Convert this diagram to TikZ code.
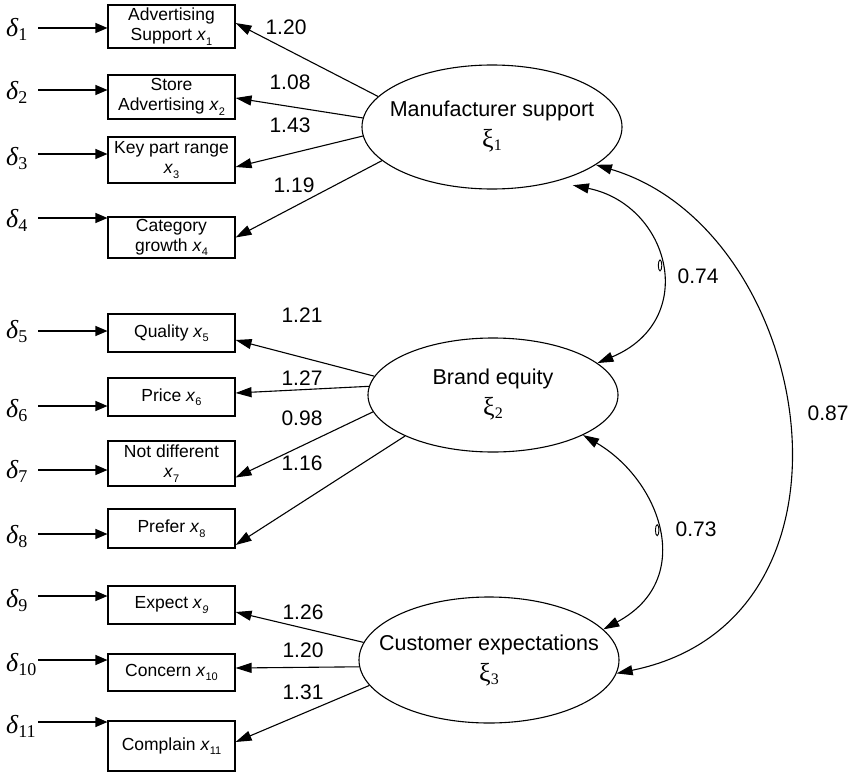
\documentclass[tikz,border=0pt]{standalone}
\usepackage{fontspec}
\setmainfont{Liberation Sans}
\newfontfamily\serifgr{Liberation Serif}
\usetikzlibrary{shapes.geometric,arrows.meta}

% error term, latent variable symbol and indicator variable
\newcommand{\dlab}[1]{{\serifgr\fontsize{26}{26}\selectfont\itshape δ}\raisebox{-4pt}{\serifgr\fontsize{18}{18}\selectfont #1}}
\newcommand{\xilab}[1]{{\serifgr\fontsize{26}{26}\selectfont ξ}\raisebox{-3pt}{\serifgr\fontsize{16}{16}\selectfont #1}}
\newcommand{\xv}[1]{\textit{x}\raisebox{-4.5pt}{\fontsize{11}{11}\selectfont #1}}

\tikzset{
  indicator/.style={draw, line width=1.1pt, minimum width=127pt, inner sep=0pt,
    align=center, font=\fontsize{17.5}{20}\selectfont},
  latent/.style={draw, ellipse, line width=1.1pt, inner sep=0pt},
  lattext/.style={inner sep=0pt, align=center, font=\fontsize{21.5}{31}\selectfont},
  errlab/.style={inner sep=0pt, anchor=base west},
  wlab/.style={inner sep=0pt, font=\fontsize{21}{21}\selectfont},
  errarrow/.style={-{Triangle[length=12pt,width=10pt]}, line width=1.1pt},
  load/.style={-{Triangle[length=16pt,width=10pt]}, line width=1.1pt},
  cov/.style={{Triangle[length=16pt,width=10pt]}-{Triangle[length=16pt,width=10pt]}, line width=1.1pt},
  tick/.style={draw, ellipse, minimum width=3.5pt, minimum height=11pt, inner sep=0pt, line width=0.9pt}
}

\begin{document}
\begin{tikzpicture}[x=1pt,y=-1pt]
\useasboundingbox (0,0) rectangle (861,773);

% latent factors (outline fixed by size, text set inside)
\node[latent, minimum width=260pt, minimum height=124pt,
  label={[lattext]center:Manufacturer support\\\xilab{1}}] (e1) at (492,127) {};
\node[latent, minimum width=250pt, minimum height=114pt,
  label={[lattext]center:Brand equity\\\xilab{2}}] (e2) at (493,395) {};
\node[latent, minimum width=260pt, minimum height=126pt,
  label={[lattext]center:Customer expectations\\\xilab{3}}] (e3) at (489,660) {};

% observed indicators
\node[indicator, minimum height=43pt] (b1) at (171.5,26.5) {Advertising\\Support \xv{1}};
\node[indicator, minimum height=44pt] (b2) at (171.5,97) {Store\\Advertising \xv{2}};
\node[indicator, minimum height=46pt] (b3) at (171.5,160) {Key part range\\\xv{3}};
\node[indicator, minimum height=41pt] (b4) at (171.5,237.5) {Category\\growth \xv{4}};
\node[indicator, minimum height=38pt] (b5) at (171.5,333) {Quality \xv{5}};
\node[indicator, minimum height=38pt] (b6) at (171.5,397) {Price \xv{6}};
\node[indicator, minimum height=45pt] (b7) at (171.5,463.5) {Not different\\\xv{7}};
\node[indicator, minimum height=39pt] (b8) at (171.5,528.5) {Prefer \xv{8}};
\node[indicator, minimum height=38pt] (b9) at (171.5,605) {Expect \textit{x}\raisebox{-4.5pt}{\fontsize{11}{11}\selectfont\itshape 9}};
\node[indicator, minimum height=37pt] (b10) at (171.5,672.5) {Concern \xv{10}};
\node[indicator, minimum height=50pt] (b11) at (171.5,746) {Complain \xv{11}};

% error terms
\node[errlab] (d1) at (6,37) {\dlab{1}};
\node[errlab] (d2) at (6,100) {\dlab{2}};
\node[errlab] (d3) at (6,165) {\dlab{3}};
\node[errlab] (d4) at (6,227) {\dlab{4}};
\node[errlab] (d5) at (6,338) {\dlab{5}};
\node[errlab] (d6) at (6,417) {\dlab{6}};
\node[errlab] (d7) at (6,478) {\dlab{7}};
\node[errlab] (d8) at (6,543) {\dlab{8}};
\node[errlab] (d9) at (6,607) {\dlab{9}};
\node[errlab] (d10) at (6,671) {\dlab{10}};
\node[errlab] (d11) at (6,733) {\dlab{11}};

\coordinate (s1) at (38,28);
\coordinate (s2) at (38,90);
\coordinate (s3) at (38,154);
\coordinate (s4) at (38,218);
\coordinate (s5) at (38,331);
\coordinate (s6) at (38,406);
\coordinate (s7) at (38,470);
\coordinate (s8) at (38,534);
\coordinate (s9) at (38,596);
\coordinate (s10) at (38,660);
\coordinate (s11) at (38,722);
\foreach \i in {1,...,11} {
  \draw[errarrow] (s\i) -- (s\i -| b\i.west);
}

% factor loadings
\draw[load] (e1.165.4) -- ([yshift=3.5pt]b1.east);
\draw[load] (e1.176.5) -- ([yshift=-1pt]b2.east);
\draw[load] (e1.184.8) -- ([yshift=-7pt]b3.east);
\draw[load] (e1.197.4) -- (b4.east);
\draw[load] (e2.171.5) -- ([yshift=-7pt]b5.east);
\draw[load] (e2.176.3) -- ([yshift=4pt]b6.east);
\draw[load] (e2.188) -- ([yshift=-14pt]b7.east);
\draw[load] (e2.205) -- ([yshift=-16.5pt]b8.east);
\draw[load] (e3.172.8) -- ([yshift=-7pt]b9.east);
\draw[load] (e3.183.5) -- ([yshift=4.5pt]b10.east);
\draw[load] (e3.192.2) -- ([yshift=4pt]b11.east);

\node[wlab] (w1) at (286,27) {1.20};
\node[wlab] (w2) at (290,82) {1.08};
\node[wlab] (w3) at (290,125) {1.43};
\node[wlab] (w4) at (294,185) {1.19};
\node[wlab] (w5) at (302,315) {1.21};
\node[wlab] (w6) at (302,378) {1.27};
\node[wlab] (w7) at (302,418) {0.98};
\node[wlab] (w8) at (302,463) {1.16};
\node[wlab] (w9) at (303,612) {1.26};
\node[wlab] (w10) at (303,650) {1.20};
\node[wlab] (w11) at (303,692) {1.31};

% factor covariances
\draw[cov] ([shift={(9pt,-6pt)}]e1.-36) .. controls (670,205) and (700,320) .. (e2.17)
  node[tick, pos=0.5] (t74) {};
\draw[cov] (e2.-24) .. controls (660,480) and (697,579) .. (e3.15)
  node[tick, pos=0.5] (t73) {};
\draw[cov] (e1.-20) .. controls (815,230) and (880,620) .. (e3.-6);

\node[wlab] (c74) at (698,276) {0.74};
\node[wlab] (c73) at (696,529) {0.73};
\node[wlab] (c87) at (828,413) {0.87};
\end{tikzpicture}
\end{document}
